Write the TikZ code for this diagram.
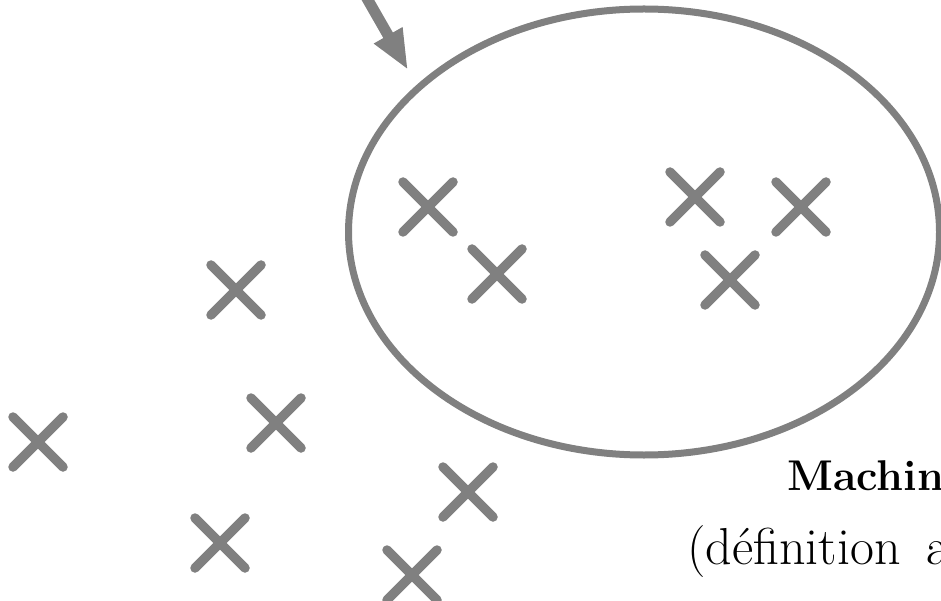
\documentclass[tikz,border=0pt]{standalone}
\usepackage{fontspec}
\usetikzlibrary{arrows.meta,shapes.geometric,shapes.misc}
\definecolor{ink}{HTML}{808080}
\tikzset{
  pt/.style={cross out, draw=ink, line width=9.5pt, line cap=round, inner sep=0pt, minimum size=40.5pt},
  region/.style={ellipse, draw=ink, line width=7pt, inner sep=0pt, minimum width=591pt, minimum height=446pt},
  pointer/.style={draw=ink, line width=11pt, -{Triangle[length=40pt,width=30pt]}},
  label/.style={anchor=base west, inner sep=0pt}
}
\begin{document}
\begin{tikzpicture}[x=1pt,y=-1pt]
\useasboundingbox (0,0) rectangle (941,601);
\node[region] (ell) at (644,232) {};
\coordinate (src) at (345,-40);
\coordinate (tip) at (408,70);
\draw[pointer] (src) -- (tip);
\node[pt] (p1) at (428,207) {};
\node[pt] (p2) at (497,274) {};
\node[pt] (p3) at (695,197) {};
\node[pt] (p4) at (801,207) {};
\node[pt] (p5) at (730,280) {};
\node[pt] (p6) at (236,290) {};
\node[pt] (p7) at (276,423) {};
\node[pt] (p8) at (38,442) {};
\node[pt] (p9) at (468,492) {};
\node[pt] (p10) at (220,543) {};
\node[pt] (p11) at (412,575) {};
\node[label, font=\fontsize{43}{50}\selectfont\bfseries] (t1) at (787,490) {Machin};
\node[label, font=\fontsize{52}{60}\selectfont] (t2) at (687,564) {(définition\hspace{0.5em}a};
\end{tikzpicture}
\end{document}
